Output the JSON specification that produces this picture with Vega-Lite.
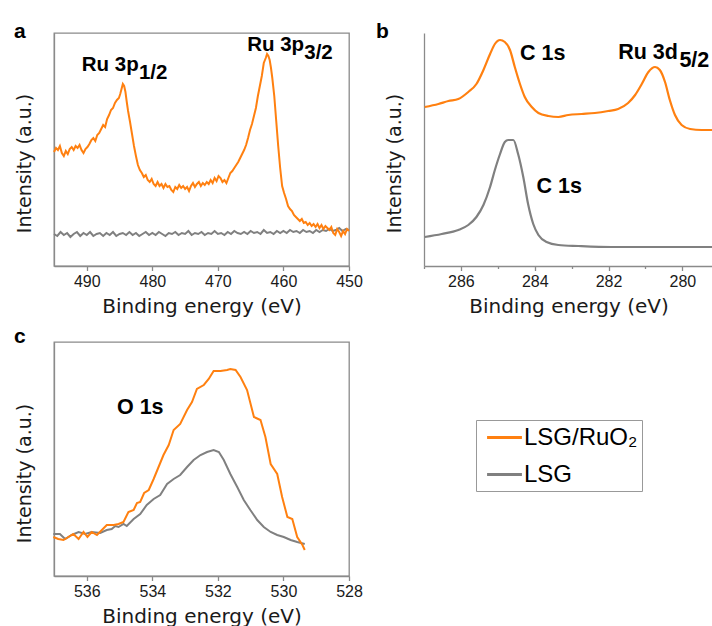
{
"$schema": "https://vega.github.io/schema/vega-lite/v6.json",
"padding": {"left": 13, "top": 20, "right": 0, "bottom": 0},
"background": "white",
"columns": 2,
"spacing": {"row": 76, "column": 75},
"bounds": "flush",
"resolve": {"scale": {"x": "independent", "y": "independent", "color": "independent"}, "axis": {"x": "independent", "y": "independent"}, "legend": {"color": "independent"}},
"datasets": {
"a": [
{"e":495.0,"v":32,"s":"LSG"},{"e":494.5,"v":30,"s":"LSG"},{"e":494.0,"v":34,"s":"LSG"},{"e":493.5,"v":31,"s":"LSG"},{"e":493.0,"v":33,"s":"LSG"},{"e":492.5,"v":29,"s":"LSG"},{"e":492.0,"v":32,"s":"LSG"},{"e":491.5,"v":34,"s":"LSG"},{"e":491.0,"v":30,"s":"LSG"},{"e":490.5,"v":33,"s":"LSG"},{"e":490.0,"v":31,"s":"LSG"},{"e":489.5,"v":34,"s":"LSG"},{"e":489.0,"v":30,"s":"LSG"},{"e":488.5,"v":32,"s":"LSG"},{"e":488.0,"v":33,"s":"LSG"},{"e":487.5,"v":30,"s":"LSG"},{"e":487.0,"v":33,"s":"LSG"},{"e":486.5,"v":31,"s":"LSG"},{"e":486.0,"v":34,"s":"LSG"},{"e":485.5,"v":30,"s":"LSG"},{"e":485.0,"v":32,"s":"LSG"},{"e":484.5,"v":33,"s":"LSG"},{"e":484.0,"v":31,"s":"LSG"},{"e":483.5,"v":34,"s":"LSG"},{"e":483.0,"v":31,"s":"LSG"},{"e":482.5,"v":33,"s":"LSG"},{"e":482.0,"v":30,"s":"LSG"},{"e":481.5,"v":32,"s":"LSG"},{"e":481.0,"v":34,"s":"LSG"},{"e":480.5,"v":31,"s":"LSG"},{"e":480.0,"v":33,"s":"LSG"},{"e":479.5,"v":31,"s":"LSG"},{"e":479.0,"v":34,"s":"LSG"},{"e":478.5,"v":32,"s":"LSG"},{"e":478.0,"v":30,"s":"LSG"},{"e":477.5,"v":33,"s":"LSG"},{"e":477.0,"v":32,"s":"LSG"},{"e":476.5,"v":34,"s":"LSG"},{"e":476.0,"v":31,"s":"LSG"},{"e":475.5,"v":33,"s":"LSG"},{"e":475.0,"v":32,"s":"LSG"},{"e":474.5,"v":35,"s":"LSG"},{"e":474.0,"v":31,"s":"LSG"},{"e":473.5,"v":33,"s":"LSG"},{"e":473.0,"v":32,"s":"LSG"},{"e":472.5,"v":34,"s":"LSG"},{"e":472.0,"v":31,"s":"LSG"},{"e":471.5,"v":33,"s":"LSG"},{"e":471.0,"v":32,"s":"LSG"},{"e":470.5,"v":35,"s":"LSG"},{"e":470.0,"v":32,"s":"LSG"},{"e":469.5,"v":33,"s":"LSG"},{"e":469.0,"v":31,"s":"LSG"},{"e":468.5,"v":34,"s":"LSG"},{"e":468.0,"v":32,"s":"LSG"},{"e":467.5,"v":35,"s":"LSG"},{"e":467.0,"v":33,"s":"LSG"},{"e":466.5,"v":32,"s":"LSG"},{"e":466.0,"v":34,"s":"LSG"},{"e":465.5,"v":32,"s":"LSG"},{"e":465.0,"v":35,"s":"LSG"},{"e":464.5,"v":33,"s":"LSG"},{"e":464.0,"v":34,"s":"LSG"},{"e":463.5,"v":32,"s":"LSG"},{"e":463.0,"v":36,"s":"LSG"},{"e":462.5,"v":33,"s":"LSG"},{"e":462.0,"v":34,"s":"LSG"},{"e":461.5,"v":32,"s":"LSG"},{"e":461.0,"v":35,"s":"LSG"},{"e":460.5,"v":33,"s":"LSG"},{"e":460.0,"v":35,"s":"LSG"},{"e":459.5,"v":33,"s":"LSG"},{"e":459.0,"v":36,"s":"LSG"},{"e":458.5,"v":34,"s":"LSG"},{"e":458.0,"v":35,"s":"LSG"},{"e":457.5,"v":33,"s":"LSG"},{"e":457.0,"v":36,"s":"LSG"},{"e":456.5,"v":34,"s":"LSG"},{"e":456.0,"v":35,"s":"LSG"},{"e":455.5,"v":33,"s":"LSG"},{"e":455.0,"v":36,"s":"LSG"},{"e":454.5,"v":34,"s":"LSG"},{"e":454.0,"v":36,"s":"LSG"},{"e":453.5,"v":35,"s":"LSG"},{"e":453.0,"v":37,"s":"LSG"},{"e":452.5,"v":35,"s":"LSG"},{"e":452.0,"v":36,"s":"LSG"},{"e":451.5,"v":38,"s":"LSG"},{"e":451.0,"v":35,"s":"LSG"},{"e":450.5,"v":37,"s":"LSG"},{"e":450.0,"v":36,"s":"LSG"},
{"e":495.0,"v":114,"s":"LSG/RuO₂"},{"e":494.7,"v":118,"s":"LSG/RuO₂"},{"e":494.4,"v":116,"s":"LSG/RuO₂"},{"e":494.1,"v":120,"s":"LSG/RuO₂"},{"e":493.8,"v":113,"s":"LSG/RuO₂"},{"e":493.5,"v":110,"s":"LSG/RuO₂"},{"e":493.2,"v":115,"s":"LSG/RuO₂"},{"e":492.9,"v":112,"s":"LSG/RuO₂"},{"e":492.6,"v":117,"s":"LSG/RuO₂"},{"e":492.3,"v":119,"s":"LSG/RuO₂"},{"e":492.0,"v":116,"s":"LSG/RuO₂"},{"e":491.7,"v":120,"s":"LSG/RuO₂"},{"e":491.4,"v":118,"s":"LSG/RuO₂"},{"e":491.1,"v":121,"s":"LSG/RuO₂"},{"e":490.8,"v":116,"s":"LSG/RuO₂"},{"e":490.5,"v":113,"s":"LSG/RuO₂"},{"e":490.2,"v":117,"s":"LSG/RuO₂"},{"e":489.9,"v":119,"s":"LSG/RuO₂"},{"e":489.6,"v":122,"s":"LSG/RuO₂"},{"e":489.3,"v":126,"s":"LSG/RuO₂"},{"e":489.0,"v":128,"s":"LSG/RuO₂"},{"e":488.7,"v":125,"s":"LSG/RuO₂"},{"e":488.4,"v":131,"s":"LSG/RuO₂"},{"e":488.1,"v":133,"s":"LSG/RuO₂"},{"e":487.8,"v":137,"s":"LSG/RuO₂"},{"e":487.5,"v":141,"s":"LSG/RuO₂"},{"e":487.2,"v":139,"s":"LSG/RuO₂"},{"e":486.9,"v":147,"s":"LSG/RuO₂"},{"e":486.6,"v":151,"s":"LSG/RuO₂"},{"e":486.3,"v":156,"s":"LSG/RuO₂"},{"e":486.0,"v":158,"s":"LSG/RuO₂"},{"e":485.7,"v":163,"s":"LSG/RuO₂"},{"e":485.4,"v":166,"s":"LSG/RuO₂"},{"e":485.1,"v":168,"s":"LSG/RuO₂"},{"e":484.9,"v":172,"s":"LSG/RuO₂"},{"e":484.7,"v":177,"s":"LSG/RuO₂"},{"e":484.5,"v":182,"s":"LSG/RuO₂"},{"e":484.3,"v":180,"s":"LSG/RuO₂"},{"e":484.1,"v":174,"s":"LSG/RuO₂"},{"e":483.9,"v":164,"s":"LSG/RuO₂"},{"e":483.7,"v":155,"s":"LSG/RuO₂"},{"e":483.4,"v":144,"s":"LSG/RuO₂"},{"e":483.1,"v":132,"s":"LSG/RuO₂"},{"e":482.8,"v":120,"s":"LSG/RuO₂"},{"e":482.5,"v":110,"s":"LSG/RuO₂"},{"e":482.2,"v":101,"s":"LSG/RuO₂"},{"e":481.9,"v":96,"s":"LSG/RuO₂"},{"e":481.6,"v":93,"s":"LSG/RuO₂"},{"e":481.3,"v":89,"s":"LSG/RuO₂"},{"e":481.0,"v":91,"s":"LSG/RuO₂"},{"e":480.7,"v":86,"s":"LSG/RuO₂"},{"e":480.4,"v":84,"s":"LSG/RuO₂"},{"e":480.1,"v":87,"s":"LSG/RuO₂"},{"e":479.8,"v":82,"s":"LSG/RuO₂"},{"e":479.5,"v":80,"s":"LSG/RuO₂"},{"e":479.2,"v":84,"s":"LSG/RuO₂"},{"e":478.9,"v":80,"s":"LSG/RuO₂"},{"e":478.6,"v":82,"s":"LSG/RuO₂"},{"e":478.3,"v":78,"s":"LSG/RuO₂"},{"e":478.0,"v":82,"s":"LSG/RuO₂"},{"e":477.7,"v":79,"s":"LSG/RuO₂"},{"e":477.4,"v":80,"s":"LSG/RuO₂"},{"e":477.1,"v":76,"s":"LSG/RuO₂"},{"e":476.8,"v":74,"s":"LSG/RuO₂"},{"e":476.5,"v":79,"s":"LSG/RuO₂"},{"e":476.2,"v":77,"s":"LSG/RuO₂"},{"e":475.9,"v":81,"s":"LSG/RuO₂"},{"e":475.6,"v":78,"s":"LSG/RuO₂"},{"e":475.3,"v":80,"s":"LSG/RuO₂"},{"e":475.0,"v":77,"s":"LSG/RuO₂"},{"e":474.7,"v":79,"s":"LSG/RuO₂"},{"e":474.4,"v":75,"s":"LSG/RuO₂"},{"e":474.1,"v":80,"s":"LSG/RuO₂"},{"e":473.8,"v":83,"s":"LSG/RuO₂"},{"e":473.5,"v":79,"s":"LSG/RuO₂"},{"e":473.2,"v":82,"s":"LSG/RuO₂"},{"e":472.9,"v":84,"s":"LSG/RuO₂"},{"e":472.6,"v":80,"s":"LSG/RuO₂"},{"e":472.3,"v":83,"s":"LSG/RuO₂"},{"e":472.0,"v":81,"s":"LSG/RuO₂"},{"e":471.7,"v":84,"s":"LSG/RuO₂"},{"e":471.4,"v":82,"s":"LSG/RuO₂"},{"e":471.1,"v":86,"s":"LSG/RuO₂"},{"e":470.8,"v":83,"s":"LSG/RuO₂"},{"e":470.5,"v":88,"s":"LSG/RuO₂"},{"e":470.2,"v":85,"s":"LSG/RuO₂"},{"e":469.9,"v":90,"s":"LSG/RuO₂"},{"e":469.6,"v":88,"s":"LSG/RuO₂"},{"e":469.3,"v":84,"s":"LSG/RuO₂"},{"e":469.0,"v":86,"s":"LSG/RuO₂"},{"e":468.7,"v":83,"s":"LSG/RuO₂"},{"e":468.4,"v":88,"s":"LSG/RuO₂"},{"e":468.1,"v":93,"s":"LSG/RuO₂"},{"e":467.8,"v":95,"s":"LSG/RuO₂"},{"e":467.5,"v":98,"s":"LSG/RuO₂"},{"e":467.2,"v":101,"s":"LSG/RuO₂"},{"e":466.9,"v":104,"s":"LSG/RuO₂"},{"e":466.6,"v":108,"s":"LSG/RuO₂"},{"e":466.3,"v":112,"s":"LSG/RuO₂"},{"e":466.0,"v":116,"s":"LSG/RuO₂"},{"e":465.7,"v":121,"s":"LSG/RuO₂"},{"e":465.4,"v":128,"s":"LSG/RuO₂"},{"e":465.1,"v":136,"s":"LSG/RuO₂"},{"e":464.8,"v":142,"s":"LSG/RuO₂"},{"e":464.5,"v":150,"s":"LSG/RuO₂"},{"e":464.2,"v":158,"s":"LSG/RuO₂"},{"e":463.9,"v":170,"s":"LSG/RuO₂"},{"e":463.6,"v":180,"s":"LSG/RuO₂"},{"e":463.3,"v":190,"s":"LSG/RuO₂"},{"e":463.0,"v":203,"s":"LSG/RuO₂"},{"e":462.7,"v":208,"s":"LSG/RuO₂"},{"e":462.5,"v":212,"s":"LSG/RuO₂"},{"e":462.3,"v":210,"s":"LSG/RuO₂"},{"e":462.1,"v":206,"s":"LSG/RuO₂"},{"e":461.9,"v":198,"s":"LSG/RuO₂"},{"e":461.7,"v":188,"s":"LSG/RuO₂"},{"e":461.4,"v":170,"s":"LSG/RuO₂"},{"e":461.1,"v":145,"s":"LSG/RuO₂"},{"e":460.8,"v":120,"s":"LSG/RuO₂"},{"e":460.5,"v":98,"s":"LSG/RuO₂"},{"e":460.2,"v":80,"s":"LSG/RuO₂"},{"e":459.9,"v":73,"s":"LSG/RuO₂"},{"e":459.6,"v":67,"s":"LSG/RuO₂"},{"e":459.3,"v":60,"s":"LSG/RuO₂"},{"e":459.0,"v":57,"s":"LSG/RuO₂"},{"e":458.7,"v":55,"s":"LSG/RuO₂"},{"e":458.4,"v":51,"s":"LSG/RuO₂"},{"e":458.1,"v":49,"s":"LSG/RuO₂"},{"e":457.8,"v":47,"s":"LSG/RuO₂"},{"e":457.5,"v":45,"s":"LSG/RuO₂"},{"e":457.2,"v":47,"s":"LSG/RuO₂"},{"e":456.9,"v":43,"s":"LSG/RuO₂"},{"e":456.6,"v":44,"s":"LSG/RuO₂"},{"e":456.3,"v":41,"s":"LSG/RuO₂"},{"e":456.0,"v":43,"s":"LSG/RuO₂"},{"e":455.7,"v":40,"s":"LSG/RuO₂"},{"e":455.4,"v":42,"s":"LSG/RuO₂"},{"e":455.1,"v":39,"s":"LSG/RuO₂"},{"e":454.8,"v":42,"s":"LSG/RuO₂"},{"e":454.5,"v":38,"s":"LSG/RuO₂"},{"e":454.2,"v":41,"s":"LSG/RuO₂"},{"e":453.9,"v":37,"s":"LSG/RuO₂"},{"e":453.6,"v":40,"s":"LSG/RuO₂"},{"e":453.3,"v":38,"s":"LSG/RuO₂"},{"e":453.0,"v":36,"s":"LSG/RuO₂"},{"e":452.7,"v":39,"s":"LSG/RuO₂"},{"e":452.4,"v":33,"s":"LSG/RuO₂"},{"e":452.1,"v":31,"s":"LSG/RuO₂"},{"e":451.8,"v":37,"s":"LSG/RuO₂"},{"e":451.5,"v":34,"s":"LSG/RuO₂"},{"e":451.2,"v":30,"s":"LSG/RuO₂"},{"e":450.9,"v":35,"s":"LSG/RuO₂"},{"e":450.6,"v":32,"s":"LSG/RuO₂"},{"e":450.3,"v":37,"s":"LSG/RuO₂"},{"e":450.0,"v":35,"s":"LSG/RuO₂"}
],
"a_lab": [
{"e":490.76,"v":194.7,"t":"Ru 3p"},{"e":482.05,"v":186.7,"t":"1/2"},
{"e":465.54,"v":215,"t":"Ru 3p"},{"e":456.83,"v":207.3,"t":"3/2"}
],
"b": [
{"e":286.98,"v":29,"s":"LSG"},{"e":286.52,"v":32,"s":"LSG"},{"e":286.07,"v":36,"s":"LSG"},{"e":285.80,"v":41,"s":"LSG"},{"e":285.58,"v":49,"s":"LSG"},{"e":285.39,"v":61,"s":"LSG"},{"e":285.21,"v":79,"s":"LSG"},{"e":285.08,"v":96,"s":"LSG"},{"e":284.94,"v":112,"s":"LSG"},{"e":284.81,"v":124,"s":"LSG"},{"e":284.72,"v":126,"s":"LSG"},{"e":284.58,"v":126,"s":"LSG"},{"e":284.45,"v":112,"s":"LSG"},{"e":284.31,"v":89,"s":"LSG"},{"e":284.18,"v":62,"s":"LSG"},{"e":284.04,"v":42,"s":"LSG"},{"e":283.90,"v":31,"s":"LSG"},{"e":283.68,"v":24,"s":"LSG"},{"e":283.36,"v":21,"s":"LSG"},{"e":282.82,"v":20,"s":"LSG"},{"e":281.92,"v":19,"s":"LSG"},{"e":280.56,"v":19,"s":"LSG"},{"e":279.15,"v":19,"s":"LSG"},
{"e":286.98,"v":159,"s":"LSG/RuO₂"},{"e":286.61,"v":162,"s":"LSG/RuO₂"},{"e":286.34,"v":165,"s":"LSG/RuO₂"},{"e":286.07,"v":167,"s":"LSG/RuO₂"},{"e":285.80,"v":174,"s":"LSG/RuO₂"},{"e":285.58,"v":182,"s":"LSG/RuO₂"},{"e":285.39,"v":196,"s":"LSG/RuO₂"},{"e":285.21,"v":212,"s":"LSG/RuO₂"},{"e":285.08,"v":222,"s":"LSG/RuO₂"},{"e":284.94,"v":226,"s":"LSG/RuO₂"},{"e":284.81,"v":224,"s":"LSG/RuO₂"},{"e":284.67,"v":216,"s":"LSG/RuO₂"},{"e":284.54,"v":199,"s":"LSG/RuO₂"},{"e":284.40,"v":182,"s":"LSG/RuO₂"},{"e":284.27,"v":169,"s":"LSG/RuO₂"},{"e":284.08,"v":159,"s":"LSG/RuO₂"},{"e":283.90,"v":153,"s":"LSG/RuO₂"},{"e":283.63,"v":150,"s":"LSG/RuO₂"},{"e":283.36,"v":149,"s":"LSG/RuO₂"},{"e":283.09,"v":151,"s":"LSG/RuO₂"},{"e":282.73,"v":152,"s":"LSG/RuO₂"},{"e":282.37,"v":153,"s":"LSG/RuO₂"},{"e":282.01,"v":155,"s":"LSG/RuO₂"},{"e":281.74,"v":157,"s":"LSG/RuO₂"},{"e":281.47,"v":163,"s":"LSG/RuO₂"},{"e":281.28,"v":171,"s":"LSG/RuO₂"},{"e":281.10,"v":182,"s":"LSG/RuO₂"},{"e":280.92,"v":194,"s":"LSG/RuO₂"},{"e":280.74,"v":199,"s":"LSG/RuO₂"},{"e":280.61,"v":196,"s":"LSG/RuO₂"},{"e":280.47,"v":184,"s":"LSG/RuO₂"},{"e":280.34,"v":166,"s":"LSG/RuO₂"},{"e":280.20,"v":151,"s":"LSG/RuO₂"},{"e":280.02,"v":141,"s":"LSG/RuO₂"},{"e":279.79,"v":137,"s":"LSG/RuO₂"},{"e":279.48,"v":136,"s":"LSG/RuO₂"},{"e":279.15,"v":136,"s":"LSG/RuO₂"}
],
"b_lab": [
{"e":284.40,"v":206.3,"t":"C 1s"},{"e":281.74,"v":207.3,"t":"Ru 3d"},{"e":280.08,"v":199,"t":"5/2"},{"e":283.95,"v":73,"t":"C 1s"}
],
"c": [
{"e":537.02,"v":42,"s":"LSG"},{"e":536.82,"v":42,"s":"LSG"},{"e":536.66,"v":37,"s":"LSG"},{"e":536.46,"v":41,"s":"LSG"},{"e":536.25,"v":44,"s":"LSG"},{"e":536.05,"v":42,"s":"LSG"},{"e":535.85,"v":44,"s":"LSG"},{"e":535.59,"v":43,"s":"LSG"},{"e":535.39,"v":46,"s":"LSG"},{"e":535.24,"v":47,"s":"LSG"},{"e":535.13,"v":50,"s":"LSG"},{"e":535.03,"v":49,"s":"LSG"},{"e":534.88,"v":52,"s":"LSG"},{"e":534.78,"v":50,"s":"LSG"},{"e":534.57,"v":57,"s":"LSG"},{"e":534.37,"v":62,"s":"LSG"},{"e":534.17,"v":71,"s":"LSG"},{"e":533.96,"v":77,"s":"LSG"},{"e":533.76,"v":81,"s":"LSG"},{"e":533.55,"v":92,"s":"LSG"},{"e":533.35,"v":97,"s":"LSG"},{"e":533.15,"v":101,"s":"LSG"},{"e":532.94,"v":109,"s":"LSG"},{"e":532.74,"v":116,"s":"LSG"},{"e":532.53,"v":121,"s":"LSG"},{"e":532.33,"v":124,"s":"LSG"},{"e":532.13,"v":126,"s":"LSG"},{"e":531.97,"v":124,"s":"LSG"},{"e":531.82,"v":116,"s":"LSG"},{"e":531.62,"v":102,"s":"LSG"},{"e":531.41,"v":89,"s":"LSG"},{"e":531.21,"v":76,"s":"LSG"},{"e":531.01,"v":66,"s":"LSG"},{"e":530.80,"v":56,"s":"LSG"},{"e":530.60,"v":49,"s":"LSG"},{"e":530.39,"v":44,"s":"LSG"},{"e":530.19,"v":41,"s":"LSG"},{"e":529.99,"v":39,"s":"LSG"},{"e":529.78,"v":36,"s":"LSG"},{"e":529.58,"v":34,"s":"LSG"},{"e":529.35,"v":32,"s":"LSG"},
{"e":537.02,"v":39,"s":"LSG/RuO₂"},{"e":536.87,"v":37,"s":"LSG/RuO₂"},{"e":536.71,"v":36,"s":"LSG/RuO₂"},{"e":536.56,"v":39,"s":"LSG/RuO₂"},{"e":536.41,"v":42,"s":"LSG/RuO₂"},{"e":536.25,"v":37,"s":"LSG/RuO₂"},{"e":536.10,"v":44,"s":"LSG/RuO₂"},{"e":535.98,"v":39,"s":"LSG/RuO₂"},{"e":535.85,"v":44,"s":"LSG/RuO₂"},{"e":535.69,"v":41,"s":"LSG/RuO₂"},{"e":535.54,"v":46,"s":"LSG/RuO₂"},{"e":535.39,"v":51,"s":"LSG/RuO₂"},{"e":535.18,"v":51,"s":"LSG/RuO₂"},{"e":535.03,"v":52,"s":"LSG/RuO₂"},{"e":534.88,"v":54,"s":"LSG/RuO₂"},{"e":534.73,"v":64,"s":"LSG/RuO₂"},{"e":534.57,"v":66,"s":"LSG/RuO₂"},{"e":534.47,"v":73,"s":"LSG/RuO₂"},{"e":534.37,"v":74,"s":"LSG/RuO₂"},{"e":534.25,"v":83,"s":"LSG/RuO₂"},{"e":534.11,"v":86,"s":"LSG/RuO₂"},{"e":533.96,"v":97,"s":"LSG/RuO₂"},{"e":533.81,"v":109,"s":"LSG/RuO₂"},{"e":533.66,"v":121,"s":"LSG/RuO₂"},{"e":533.50,"v":131,"s":"LSG/RuO₂"},{"e":533.35,"v":146,"s":"LSG/RuO₂"},{"e":533.15,"v":152,"s":"LSG/RuO₂"},{"e":532.94,"v":166,"s":"LSG/RuO₂"},{"e":532.79,"v":174,"s":"LSG/RuO₂"},{"e":532.64,"v":187,"s":"LSG/RuO₂"},{"e":532.43,"v":191,"s":"LSG/RuO₂"},{"e":532.28,"v":197,"s":"LSG/RuO₂"},{"e":532.13,"v":205,"s":"LSG/RuO₂"},{"e":531.92,"v":205,"s":"LSG/RuO₂"},{"e":531.72,"v":206,"s":"LSG/RuO₂"},{"e":531.62,"v":207,"s":"LSG/RuO₂"},{"e":531.46,"v":206,"s":"LSG/RuO₂"},{"e":531.31,"v":199,"s":"LSG/RuO₂"},{"e":531.11,"v":186,"s":"LSG/RuO₂"},{"e":530.90,"v":159,"s":"LSG/RuO₂"},{"e":530.70,"v":156,"s":"LSG/RuO₂"},{"e":530.55,"v":139,"s":"LSG/RuO₂"},{"e":530.39,"v":112,"s":"LSG/RuO₂"},{"e":530.19,"v":102,"s":"LSG/RuO₂"},{"e":530.04,"v":79,"s":"LSG/RuO₂"},{"e":529.88,"v":59,"s":"LSG/RuO₂"},{"e":529.73,"v":57,"s":"LSG/RuO₂"},{"e":529.58,"v":39,"s":"LSG/RuO₂"},{"e":529.42,"v":31,"s":"LSG/RuO₂"},{"e":529.35,"v":26,"s":"LSG/RuO₂"}
],
"c_lab": [
{"e":535.08,"v":162.3,"t":"O 1s"}
]
},
"concat": [
{
"width": 295, "height": 233,
"title": {"text": "a", "dx": -40, "offset": -9},
"layer": [
{"data": {"name": "a"}, "mark": {"type": "line", "strokeWidth": 2},
 "encoding": {
  "x": {"field": "e", "type": "quantitative", "title": "Binding energy (eV)",
        "scale": {"domain": [450, 495], "reverse": true, "nice": false, "zero": false},
        "axis": {"values": [495,490,485,480,475,470,465,460,455,450], "labelExpr": "datum.value % 10 === 0 ? datum.label : ''",
                 "tickSize": {"condition": {"test": "datum.value % 10 === 0", "value": 4.5}, "value": 2.5}}},
  "y": {"field": "v", "type": "quantitative", "title": "Intensity (a.u.)", "scale": {"domain": [0, 233], "nice": false, "zero": false}},
  "color": {"field": "s", "type": "nominal", "scale": {"domain": ["LSG/RuO₂", "LSG"], "range": ["#ff8010", "#808080"]}, "legend": null}
 }},
{"data": {"name": "a_lab"}, "mark": {"type": "text", "align": "left", "baseline": "alphabetic", "fontSize": 20.5, "fontWeight": "bold", "font": "Liberation Sans", "color": "#000"},
 "encoding": {"x": {"field": "e", "type": "quantitative", "title": "Binding energy (eV)"}, "y": {"field": "v", "type": "quantitative", "title": "Intensity (a.u.)"}, "text": {"field": "t"}}}
]
},
{
"width": 289, "height": 233,
"view": {"stroke": null},
"title": {"text": "b", "dx": -48, "offset": -9},
"layer": [
{"mark": {"type": "rule", "color": "#8a8a8a", "strokeWidth": 1.3}, "encoding": {"y": {"datum": 233, "type": "quantitative"}}},
{"data": {"name": "b"}, "mark": {"type": "line", "strokeWidth": 2.2, "interpolate": "monotone"},
 "encoding": {
  "x": {"field": "e", "type": "quantitative", "title": "Binding energy (eV)",
        "scale": {"domain": [279.17, 287], "reverse": true, "nice": false, "zero": false},
        "axis": {"values": [287,286,285,284,283,282,281,280], "labelExpr": "datum.value % 2 === 0 ? datum.label : ''",
                 "tickSize": {"condition": {"test": "datum.value % 2 === 0", "value": 4.5}, "value": 2.5}}},
  "y": {"field": "v", "type": "quantitative", "title": "Intensity (a.u.)", "scale": {"domain": [0, 233], "nice": false, "zero": false}},
  "color": {"field": "s", "type": "nominal", "scale": {"domain": ["LSG/RuO₂", "LSG"], "range": ["#ff8010", "#808080"]}, "legend": null}
 }},
{"data": {"name": "b_lab"}, "mark": {"type": "text", "align": "left", "baseline": "alphabetic", "fontSize": 21.5, "fontWeight": "bold", "font": "Liberation Sans", "color": "#000"},
 "encoding": {"x": {"field": "e", "type": "quantitative", "title": "Binding energy (eV)"}, "y": {"field": "v", "type": "quantitative", "title": "Intensity (a.u.)"}, "text": {"field": "t"}}}
]
},
{
"width": 295, "height": 234,
"title": {"text": "c", "dx": -40, "offset": -5},
"layer": [
{"data": {"name": "c"}, "mark": {"type": "line", "strokeWidth": 2},
 "encoding": {
  "x": {"field": "e", "type": "quantitative", "title": "Binding energy (eV)",
        "scale": {"domain": [528, 537], "reverse": true, "nice": false, "zero": false},
        "axis": {"values": [537,536,535,534,533,532,531,530,529,528], "labelExpr": "datum.value % 2 === 0 ? datum.label : ''",
                 "tickSize": {"condition": {"test": "datum.value % 2 === 0", "value": 4.5}, "value": 2.5}}},
  "y": {"field": "v", "type": "quantitative", "title": "Intensity (a.u.)", "scale": {"domain": [0, 234], "nice": false, "zero": false}, "axis": {"titleY": 131}},
  "color": {"field": "s", "type": "nominal", "scale": {"domain": ["LSG/RuO₂", "LSG"], "range": ["#ff8010", "#808080"]},
            "legend": {"orient": "none", "legendX": 422, "legendY": 78, "title": null, "strokeColor": "#999999", "padding": 4,
                       "symbolType": "M-1.5,0H1.5", "symbolSize": 540, "symbolStrokeWidth": 3, "symbolOffset": 11, "labelFont": "Liberation Sans", "labelFontSize": 24,
                       "labelColor": "#000", "labelOffset": 6, "rowPadding": 11, "fillColor": "white"}}
 }},
{"data": {"name": "c_lab"}, "mark": {"type": "text", "align": "left", "baseline": "alphabetic", "fontSize": 21.5, "fontWeight": "bold", "font": "Liberation Sans", "color": "#000"},
 "encoding": {"x": {"field": "e", "type": "quantitative", "title": "Binding energy (eV)"}, "y": {"field": "v", "type": "quantitative", "title": "Intensity (a.u.)"}, "text": {"field": "t"}}}
]
}
],
"config": {
 "view": {"stroke": "#8a8a8a", "strokeWidth": 1.3},
 "title": {"anchor": "start", "frame": "group", "baseline": "alphabetic", "fontSize": 21, "fontWeight": "bold", "font": "Liberation Sans", "color": "#000"},
 "axis": {"grid": false, "domainColor": "#8a8a8a", "domainWidth": 1.3, "tickColor": "#8a8a8a", "tickWidth": 1.3,
          "labelFont": "Liberation Sans", "labelFontSize": 16, "labelColor": "#1a1a1a", "labelFlush": false, "labelOverlap": false, "labelPadding": 3,
          "titleFont": "DejaVu Sans", "titleFontWeight": "normal", "titleColor": "#1a1a1a"},
 "axisX": {"titleFontSize": 20, "titleBaseline": "alphabetic", "titleY": 46},
 "axisY": {"labels": false, "ticks": false, "titleFontSize": 19, "titleAngle": 270, "titleBaseline": "alphabetic", "titleAlign": "center", "titleX": -24, "titleY": 130}
}
}
